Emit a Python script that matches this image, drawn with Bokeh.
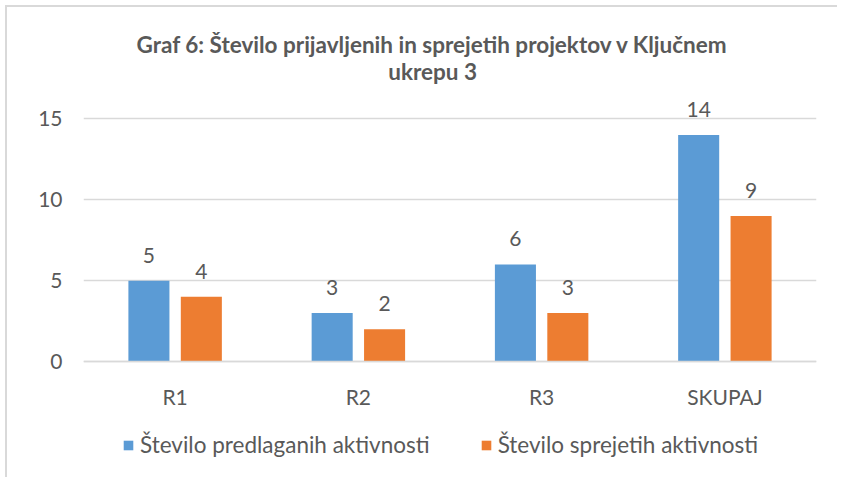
from bokeh.plotting import figure
from bokeh.models import ColumnDataSource, FactorRange, Range1d, LabelSet, Label, Legend, LegendItem, FixedTicker
from bokeh.transform import dodge
from bokeh.core.properties import value
from bokeh.embed import file_html
from bokeh.resources import INLINE

categories = ["R1", "R2", "R3", "SKUPAJ"]
predlagane = [5, 3, 6, 14]
sprejete = [4, 2, 3, 9]
series_names = ["Število predlaganih aktivnosti", "Število sprejetih aktivnosti"]
title_lines = ["Graf 6: Število prijavljenih in sprejetih projektov v Ključnem", "ukrepu 3"]
y_ticks = [0, 5, 10, 15]

BLUE = "#5B9BD5"
ORANGE = "#ED7D31"
TXT = "#595959"
GRID = "#d9d9d9"
FONT = "Lato"

src = ColumnDataSource(dict(cat=categories, a=predlagane, b=sprejete,
                            a_txt=[str(v) for v in predlagane],
                            b_txt=[str(v) for v in sprejete]))

# the frame spans title and legend areas; the x axis is pinned at y = 0
p = figure(x_range=FactorRange(*categories), y_range=Range1d(-7.1, 21.2),
           width=832, height=472, output_backend="svg", toolbar_location=None,
           min_border_left=76, min_border_right=23, min_border_top=11, min_border_bottom=3)
p.styles = {"position": "relative", "left": "5px", "top": "5px",
            "border-top": "2px solid #d9d9d9", "border-left": "2px solid #d9d9d9"}
p.outline_line_color = None
p.background_fill_color = "white"
p.border_fill_color = "white"

off = 0.143
w = 0.224
r1 = p.vbar(x=dodge("cat", -off, range=p.x_range), top="a", width=w, source=src,
            fill_color=BLUE, line_color=None)
r2 = p.vbar(x=dodge("cat", off, range=p.x_range), top="b", width=w, source=src,
            fill_color=ORANGE, line_color=None)

for col, txt, d in (("a", "a_txt", -off), ("b", "b_txt", off)):
    p.add_layout(LabelSet(x=dodge("cat", d, range=p.x_range), y=col, text=txt, source=src,
                          text_align="center", text_baseline="alphabetic", y_offset=18,
                          text_font=value(FONT), text_font_size=value("21px"),
                          text_color=value(TXT)))

# axes
p.yaxis.ticker = FixedTicker(ticks=y_ticks)
p.yaxis.axis_line_color = None
p.yaxis.major_tick_line_color = None
p.yaxis.minor_tick_line_color = None
p.yaxis.major_tick_out = 0
p.yaxis.minor_tick_out = 0
p.yaxis.major_label_standoff = 21
p.yaxis.major_label_text_font = FONT
p.yaxis.major_label_text_font_size = "21px"
p.yaxis.major_label_text_color = TXT

p.xaxis.fixed_location = 0
p.xaxis.axis_line_color = GRID
p.xaxis.axis_line_width = 1.5
p.xaxis.major_tick_line_color = None
p.xaxis.minor_tick_line_color = None
p.xaxis.major_tick_out = 0
p.xaxis.minor_tick_out = 0
p.xaxis.major_label_standoff = 22
p.xaxis.major_label_text_font = FONT
p.xaxis.major_label_text_font_size = "21px"
p.xaxis.major_label_text_color = TXT

p.xgrid.grid_line_color = None
p.ygrid.ticker = FixedTicker(ticks=y_ticks)
p.ygrid.grid_line_color = GRID
p.ygrid.grid_line_width = 1.5

# two-line chart title
for t, yy in zip(title_lines, [19.6, 17.9]):
    p.add_layout(Label(x=1.905, y=yy, text=t, text_align="center", text_baseline="alphabetic",
                       text_font=FONT, text_font_style="bold", text_font_size="22.5px",
                       text_color=TXT))

legend = Legend(items=[LegendItem(label=series_names[0], renderers=[r1]),
                       LegendItem(label=series_names[1], renderers=[r2])],
                orientation="horizontal", location=(39, 18),
                glyph_width=12, glyph_height=12, label_standoff=6, spacing=50,
                padding=0, margin=0, border_line_color=None, background_fill_alpha=0,
                label_text_font=FONT, label_text_font_size="22.5px", label_text_color=TXT)
p.add_layout(legend, "center")

open("out.html", "w").write(file_html(p, INLINE))
